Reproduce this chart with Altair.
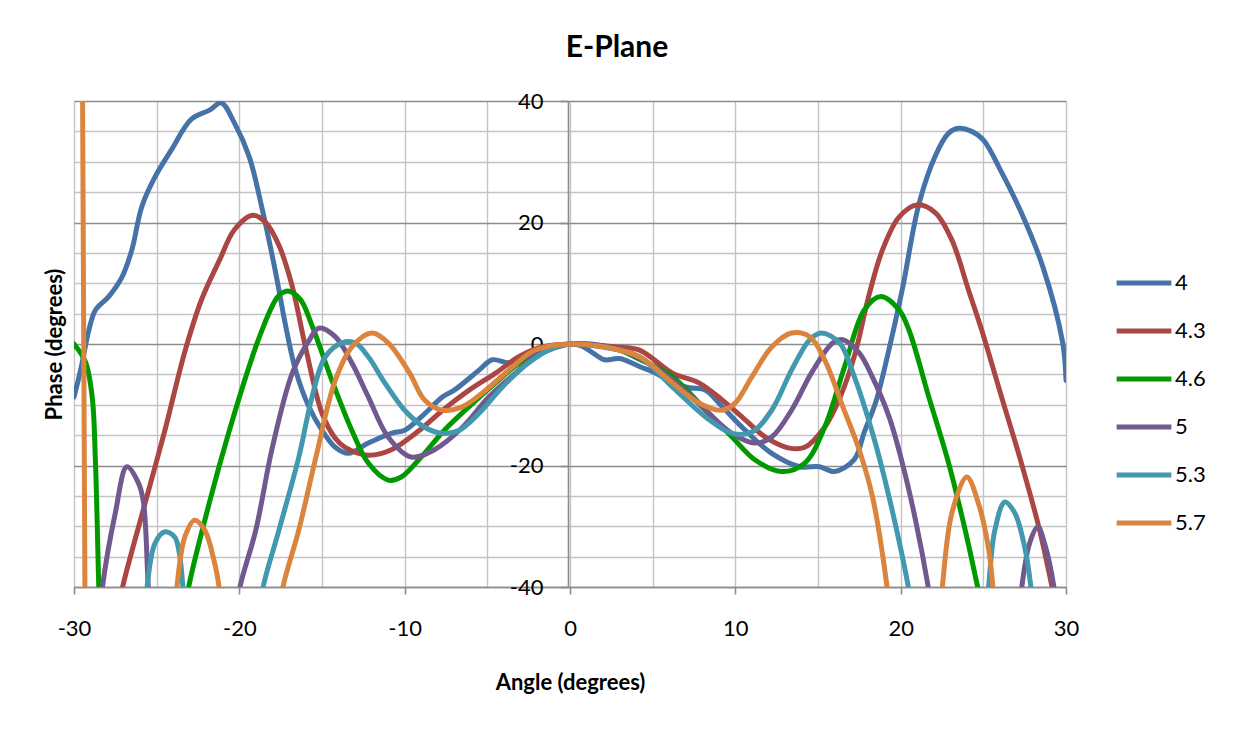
import altair as alt
import pandas as pd

# ---------------- data ----------------
series_names = ["4", "4.3", "4.6", "5", "5.3", "5.7"]
series_colors = ["#4572A7", "#AA4643", "#009A00", "#71588F", "#4198AF", "#DB843D"]

x_4 = [-30, -29.6, -29.1, -28.7, -27.9, -27.1, -26.5, -25.9, -25.1, -24.1, -22.9, -21.8,
       -21.1, -20.3, -19.4, -18.6, -17.8, -17.2, -16.6, -15.8, -15.0, -14.2, -13.4, -12.2,
       -10.8, -10.0, -9.0, -7.7, -7.0, -5.5, -4.7, -3.7, -2.5, -1.0, 0, 0.7, 1.4, 2.1, 3.0,
       4.2, 5.2, 6.2, 7.2, 8.2, 9.2, 10.6, 12.2, 13.9, 15.1, 16.0, 17.2, 17.8, 18.5, 19.2,
       20.1, 21.1, 22.1, 22.9, 23.5, 24.3, 25.0, 26.1, 27.3, 28.6, 29.8, 30]
y_4 = [-8.7, -4.3, 2.3, 5.6, 7.8, 11.0, 15.5, 22.6, 27.5, 32.0, 37.0, 38.5,
       39.7, 36.4, 30.8, 22.0, 11.7, 3.0, -4.3, -10.3, -14.2, -17.0, -18.0, -16.3,
       -14.7, -14.2, -12.0, -8.7, -7.6, -4.3, -2.6, -3.1, -2.3, -0.7, 0, -0.3, -1.5, -2.6, -2.4,
       -3.7, -4.8, -6.4, -7.2, -7.6, -10.3, -14.2, -18.0, -20.2, -20.2, -21.0, -19.0, -14.5, -9.5, -2.0,
       9.0, 23.0, 31.0, 34.7, 35.5, 35.0, 33.6, 28.3, 21.6, 12.7, 0.2, -6.0]

x_43 = [-27.3, -27.1, -25.7, -24.5, -23.3, -22.3, -21.2, -20.3, -19.2, -18.4, -17.6, -16.8,
        -16.0, -15.0, -14.2, -13.6, -12.2, -10.8, -9.1, -7.7, -6.1, -4.5, -3.1, -1.7, 0,
        1.5, 2.8, 4.2, 6.2, 7.8, 9.2, 10.6, 11.8, 13.2, 14.2, 15.4, 16.3, 17.2, 18.1,
        18.9, 19.9, 21.0, 22.1, 23.1, 24.1, 24.9, 26.1, 27.3, 28.4, 29.2, 29.5]
y_43 = [-44.0, -40.5, -26.2, -14.2, -1.3, 7.2, 13.8, 18.8, 21.2, 20.0, 16.2, 9.5,
        -0.5, -11.4, -15.5, -17.0, -18.3, -17.4, -14.2, -10.9, -7.6, -4.8, -2.1, -0.5, 0,
        -0.2, -0.5, -1.0, -4.8, -6.4, -9.2, -12.5, -15.3, -17.1, -17.0, -13.7, -9.0, -2.0, 8.2,
        15.5, 20.9, 22.9, 21.6, 17.1, 8.9, 2.3, -8.7, -19.6, -30.6, -40.5, -44.0]

x_46 = [-30, -29.3, -28.9, -28.7, -28.5, -28.4, -23.3, -23.1, -21.8, -20.6, -19.2, -18.6,
        -18.0, -17.6, -17.0, -16.3, -15.6, -14.4, -13.2, -12.2, -11.0, -10.2, -9.0, -7.6, -6.1,
        -4.5, -3.1, -1.7, 0, 1.5, 3.0, 4.2, 6.2, 8.2, 9.8, 11.2, 12.8, 14.2, 15.4, 16.6,
        17.8, 18.8, 19.9, 20.5, 21.7, 22.9, 23.9, 24.7, 25.0]
y_46 = [0.0, -3.0, -8.7, -19.6, -40.0, -48.0, -45.0, -40.5, -26.0, -14.2, -2.0, 2.5,
        6.3, 8.0, 8.7, 7.3, 3.0, -6.0, -14.2, -19.6, -22.4, -21.9, -18.6, -14.2, -10.3,
        -6.4, -3.2, -1.0, 0, -0.2, -1.0, -2.5, -5.4, -10.9, -15.3, -19.1, -21.0, -19.6, -13.7, -3.8,
        5.6, 7.8, 5.6, 2.3, -8.7, -19.6, -30.6, -40.5, -44.0]

x_5 = [-28.5, -28.3, -27.5, -26.8, -26.1, -25.8, -25.5, -25.3, -20.2, -20.0, -19.0, -18.0,
       -16.8, -15.8, -15.2, -14.2, -13.2, -12.2, -11.0, -9.6, -8.2, -6.5, -4.9, -3.3, -1.7, 0,
       2.0, 4.2, 6.2, 8.2, 9.8, 11.2, 12.2, 13.4, 14.6, 15.9, 16.5, 17.5, 18.3, 19.3, 20.1,
       20.9, 21.7, 22.0, 27.1, 27.3, 27.8, 28.3, 28.7, 29.3, 29.5]
y_5 = [-48.0, -40.5, -27.8, -20.2, -22.9, -26.0, -40.5, -48.0, -46.0, -40.5, -30.6, -17.0,
       -4.8, 0.5, 2.6, 1.2, -3.1, -8.7, -15.3, -18.6, -17.4, -13.7, -8.7, -4.8, -1.2, 0,
       -0.3, -2.3, -5.9, -10.9, -14.7, -16.3, -15.3, -10.9, -4.8, 0.2, 0.7, -1.5, -5.5, -12.0, -19.6,
       -29.0, -40.5, -46.0, -46.0, -40.5, -32.8, -30.1, -32.8, -40.5, -46.0]

x_53 = [-25.8, -25.6, -25.1, -24.5, -23.9, -23.6, -23.4, -23.2, -18.8, -18.6, -17.6, -16.4,
        -15.6, -14.8, -13.8, -13.0, -12.2, -11.2, -10.0, -8.8, -7.7, -6.7, -5.5, -4.1, -2.5,
        -1.0, 0, 2.0, 4.2, 6.2, 8.2, 9.8, 11.0, 12.2, 13.4, 14.5, 15.2, 16.3, 17.2, 18.3,
        19.3, 20.5, 20.8, 25.1, 25.3, 25.7, 26.3, 26.9, 27.5, 27.9, 28.1]
y_53 = [-48.0, -40.5, -32.8, -30.9, -31.8, -35.0, -40.5, -48.0, -46.0, -40.5, -30.6, -18.6,
        -8.7, -2.1, 0.2, 0.2, -2.1, -6.4, -10.9, -13.7, -14.7, -14.2, -11.4, -7.1, -3.1,
        -0.6, 0, -0.5, -2.1, -7.1, -12.0, -14.7, -14.5, -10.9, -4.3, 0.7, 1.8, 0.2, -5.4, -14.7,
        -25.2, -40.5, -46.0, -46.0, -40.5, -30.6, -26.0, -27.8, -33.4, -40.5, -46.0]

x_57 = [-29.52, -29.48, -29.41, -29.34, -29.30, -29.25, -24.2, -24.0, -23.8, -23.3, -22.7,
        -22.1, -21.5, -21.2, -21.0, -17.6, -17.4,
        -16.4, -15.4, -14.2, -13.2, -12.0, -11.0, -9.7, -8.8, -7.7, -6.5, -5.1, -3.7, -2.1, 0,
        2.1, 4.2, 6.2, 7.8, 9.2, 10.0, 11.0, 12.2, 13.4, 14.5, 15.4, 16.5, 17.5, 18.3, 19.2,
        19.4, 22.3, 22.5, 23.1, 24.0, 24.7, 25.3, 25.6, 25.8]
y_57 = [60.0, 40.0, 0.0, -40.0, -60.0, -80.0, -60.0, -46.0, -40.5, -31.8, -29.0,
        -30.6, -36.0, -40.5, -46.0, -46.0, -40.5,
        -30.6, -19.0, -6.0, -0.5, 1.8, 0.2, -4.8, -9.2, -10.9, -10.3, -7.6, -4.3, -1.0, 0,
        -0.5, -2.1, -6.4, -9.7, -10.9, -9.7, -5.4, -0.5, 1.8, 1.2, -2.6, -10.3, -17.5, -25.2, -40.5,
        -46.0, -46.0, -40.5, -27.8, -21.9, -26.2, -33.4, -40.5, -46.0]

x_series = [x_4, x_43, x_46, x_5, x_53, x_57]
y_series = [y_4, y_43, y_46, y_5, y_53, y_57]

x_ticks = list(range(-30, 31, 5))
y_ticks = list(range(-40, 41, 5))
y_labels = [-40, -20, 0, 20, 40]

rows = []
for name, xs, ys in zip(series_names, x_series, y_series):
    for a, p in zip(xs, ys):
        rows.append({"freq": name, "angle": a, "phase": p})
df = pd.DataFrame(rows)

FONT = "Lato"

x_scale = alt.Scale(domain=[-30, 30], nice=False, zero=False)
y_scale = alt.Scale(domain=[-40, 40], nice=False, zero=False)

x_axis = alt.Axis(
    values=x_ticks,
    labelExpr="datum.value % 10 === 0 ? datum.value + '' : ''",
    grid=True, gridColor="#c4c4c4", gridWidth=1.4,
    domainColor="#8c8c8c", domainWidth=1.6,
    tickColor="#8c8c8c", tickWidth=1.6, tickSize=7,
    tickOpacity={"condition": {"test": "datum.value % 10 === 0", "value": 1}, "value": 0},
    labelFont=FONT, labelFontSize=22, labelColor="#000000", labelPadding=24,
    labelFlush=False,
    title="Angle (degrees)", titleFont=FONT, titleFontSize=22, titleFontWeight="bold",
    titleColor="#000000", titlePadding=33, zindex=0,
)

y_grid_axis = alt.Axis(
    orient="left", values=y_ticks, grid=True,
    gridColor={"condition": {"test": "datum.value % 20 === 0", "value": "#8c8c8c"}, "value": "#c4c4c4"},
    gridWidth=1.4, labels=False, ticks=False, domain=False,
    title="Phase (degrees)", titleFont=FONT, titleFontSize=22, titleFontWeight="bold",
    titleColor="#000000", titlePadding=8, zindex=0,
)

y_label_axis = alt.Axis(
    orient="left", offset=-494, values=y_labels, grid=False,
    labelExpr="datum.value + ''",
    domainColor="#8c8c8c", domainWidth=1.6,
    tickColor="#8c8c8c", tickWidth=1.6, tickSize=8,
    labelFont=FONT, labelFontSize=22, labelColor="#000000", labelPadding=17,
    labelFlush=False, title=None, zindex=0,
)

color = alt.Color(
    "freq:N",
    scale=alt.Scale(domain=series_names, range=series_colors),
    legend=alt.Legend(
        title=None, orient="none", legendX=1040, legendY=152,
        symbolType="stroke", symbolStrokeWidth=5, symbolSize=3000,
        labelFont=FONT, labelFontSize=22, labelColor="#000000",
        rowPadding=7, labelOffset=1,
    ),
    sort=series_names,
)

base = alt.Chart(df)

series_layers = []
for name in series_names:
    series_layers.append(
        base.transform_filter(alt.datum.freq == name)
        .mark_line(interpolate="catmull-rom", strokeWidth=5, clip=True, strokeCap="round")
        .encode(
            x=alt.X("angle:Q", scale=x_scale, axis=x_axis),
            y=alt.Y("phase:Q", scale=y_scale, axis=y_grid_axis),
            color=color,
        )
    )
lines = alt.layer(*series_layers)

label_layer = base.mark_line(opacity=0, clip=True).encode(
    x=alt.X("angle:Q", scale=x_scale, axis=x_axis),
    y=alt.Y("phase:Q", scale=y_scale, axis=y_label_axis),
    detail="freq:N",
)

chart = (
    alt.layer(label_layer, lines)
    .resolve_axis(y="independent")
    .properties(
        width=992, height=486,
        autosize=alt.AutoSizeParams(type="none"),
        padding={"left": 66, "top": 93, "right": 162, "bottom": 120},
        title=alt.TitleParams("E-Plane", font=FONT, fontSize=30, fontWeight="bold",
                              color="#000000", anchor="middle", dx=47, offset=27),
    )
    .configure_view(stroke=None)
)

chart.save("out.html", embed_options={"renderer": "svg", "actions": False})
